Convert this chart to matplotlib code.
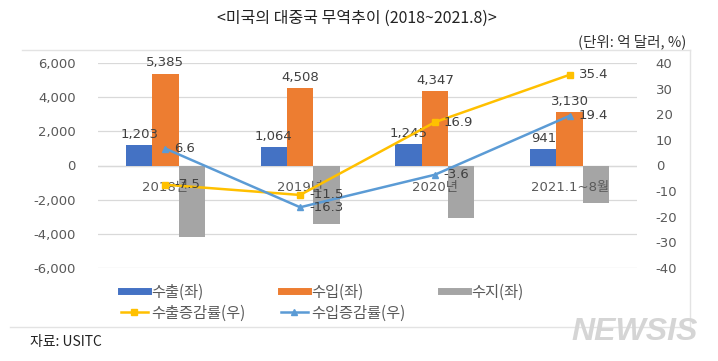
import matplotlib
matplotlib.use("Agg")
import matplotlib.pyplot as plt
from matplotlib.lines import Line2D
from matplotlib.ticker import FuncFormatter
import numpy as np

plt.rcParams['font.family'] = ['DejaVu Sans', 'Noto Sans CJK KR']
plt.rcParams['axes.unicode_minus'] = False

# data (억 달러, %)
categories = ['2018년', '2019년', '2020년', '2021.1~8월']
exports = [1203, 1064, 1245, 941]
imports = [5385, 4508, 4347, 3130]
balance = [-4182, -3444, -3102, -2189]
export_growth = [-7.5, -11.5, 16.9, 35.4]
import_growth = [6.6, -16.3, -3.6, 19.4]

c_exp = '#4472C4'
c_imp = '#ED7D31'
c_bal = '#A5A5A5'
c_exp_rate = '#FFC000'
c_imp_rate = '#5B9BD5'
txt = '#595959'

fig = plt.figure(figsize=(7.18, 3.61), dpi=100)
ax = fig.add_axes([98 / 718, 1 - 268 / 361, 539 / 718, 205 / 361])
ax2 = ax.twinx()

x = np.arange(len(categories))
w = 0.195
ax.bar(x - w, exports, w, color=c_exp, zorder=2)
ax.bar(x, imports, w, color=c_imp, zorder=2)
ax.bar(x + w, balance, w, color=c_bal, zorder=2)

for i in range(len(x)):
    ax.annotate(f'{exports[i]:,}', (x[i] - w, exports[i]), xytext=(0, 3),
                textcoords='offset points', ha='center', va='bottom',
                fontsize=9.5, color='#404040', zorder=5)
    ax.annotate(f'{imports[i]:,}', (x[i], imports[i]), xytext=(0, 3),
                textcoords='offset points', ha='center', va='bottom',
                fontsize=9.5, color='#404040', zorder=5)
    # category labels sit next to the zero line
    ax.annotate(categories[i], (x[i], 0), xytext=(0, -22),
                textcoords='offset pixels', ha='center', va='center',
                fontsize=9.5, color=txt, zorder=4)

ax.set_xlim(-0.5, len(x) - 0.5)
ax.set_ylim(-6000, 6000)
ax.set_yticks(np.arange(-6000, 6001, 2000))
ax.yaxis.set_major_formatter(FuncFormatter(lambda v, p: f'{int(v):,}'))
ax.grid(axis='y', color='#D9D9D9', lw=0.9, zorder=0)
ax.axhline(0, color='#D9D9D9', lw=0.9, zorder=1)
ax.set_xticks([])
ax.tick_params(axis='y', length=0, pad=16, labelsize=9.5, labelcolor=txt)
for s in ax.spines.values():
    s.set_visible(False)

ax2.plot(x, export_growth, color=c_exp_rate, lw=1.8, marker='s', ms=4.5, zorder=3)
ax2.plot(x, import_growth, color=c_imp_rate, lw=1.8, marker='^', ms=4, zorder=3)
for i in range(len(x)):
    ax2.annotate(f'{export_growth[i]}', (x[i], export_growth[i]), xytext=(9, 0),
                 textcoords='offset pixels', ha='left', va='center',
                 fontsize=9.5, color='#404040')
    ax2.annotate(f'{import_growth[i]}', (x[i], import_growth[i]), xytext=(9, 0),
                 textcoords='offset pixels', ha='left', va='center',
                 fontsize=9.5, color='#404040')
ax2.set_ylim(-40, 40)
ax2.set_yticks(np.arange(-40, 41, 10))
ax2.tick_params(axis='y', length=0, pad=13.5, labelsize=9.5, labelcolor=txt)
for s in ax2.spines.values():
    s.set_visible(False)

# legend
kr = 'Noto Sans CJK KR'
handles = [
    Line2D([], [], color=c_exp, lw=5),
    Line2D([], [], color=c_exp_rate, lw=1.8, marker='s', ms=4),
    Line2D([], [], color=c_imp, lw=5),
    Line2D([], [], color=c_imp_rate, lw=1.8, marker='^', ms=4),
    Line2D([], [], color=c_bal, lw=5),
]
labels = ['수출(좌)', '수출증감률(우)', '수입(좌)', '수입증감률(우)', '수지(좌)']
fig.legend(handles, labels, ncol=3, loc='upper left',
           bbox_to_anchor=(113 / 718, 1 - 276 / 361), frameon=False,
           borderpad=0, handlelength=1.8, handletextpad=0.2,
           columnspacing=2.3, labelspacing=0.25,
           prop={'family': kr, 'size': 11}, labelcolor=txt)

# frame lines of the chart area
fig.add_artist(Line2D([22 / 718, 690 / 718], [1 - 50 / 361, 1 - 50 / 361],
                      color='#E3E3E3', lw=1))
fig.add_artist(Line2D([690 / 718, 690 / 718], [1 - 50 / 361, 1 - 327 / 361],
                      color='#E3E3E3', lw=1))
fig.add_artist(Line2D([10 / 718, 690 / 718], [1 - 327 / 361, 1 - 327 / 361],
                      color='#E3E3E3', lw=1))

fig.text(357 / 718, 1 - 18 / 361, '<미국의 대중국 무역추이 (2018~2021.8)>',
         ha='center', va='center', fontsize=11.5, family=kr, color='#222222')
fig.text(686 / 718, 1 - 42 / 361, '(단위: 억 달러, %)', ha='right', va='center',
         fontsize=10.5, family=kr, color='#333333')
fig.text(30 / 718, 1 - 342 / 361, '자료: USITC', ha='left', va='center',
         fontsize=10, family=kr, color='#222222')
fig.text(698 / 718, 1 - 332 / 361, 'NEWSIS', ha='right', va='center',
         fontsize=23, family='Liberation Sans', weight='bold', style='italic',
         color='#D5D5D5')

fig.savefig('out.png', dpi=100)
